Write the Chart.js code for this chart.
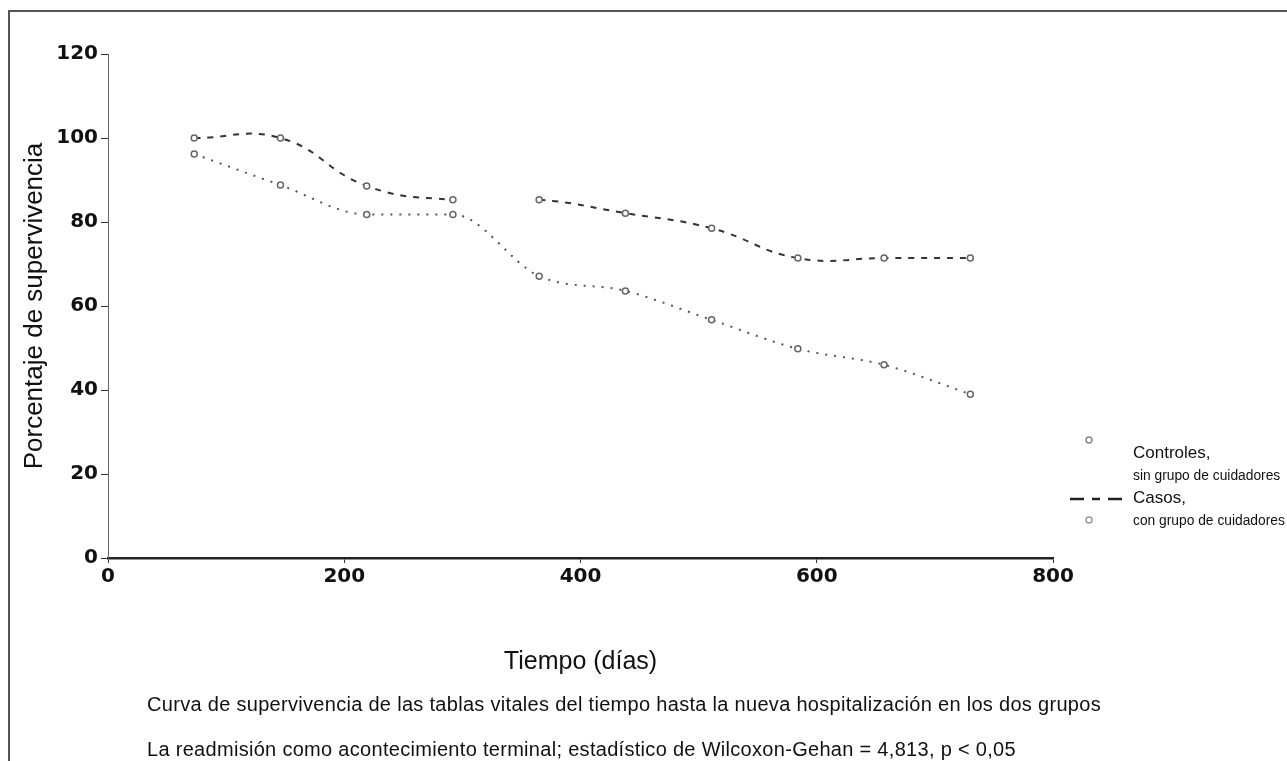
<!DOCTYPE html>
<html lang="es">
<head>
<meta charset="utf-8">
<title>Curva de supervivencia</title>
<script src="https://cdn.jsdelivr.net/npm/chart.js@4.4.0/dist/chart.umd.min.js"></script>
<style>
  html, body { margin: 0; padding: 0; background: #fff; }
  body { width: 1287px; height: 761px; position: relative; overflow: hidden;
         font-family: "Liberation Sans", Arial, sans-serif; color: #111; }
  #wrap { position: absolute; left: 0; top: 0; width: 1287px; height: 761px; }
  .frame { position: absolute; left: 8px; top: 10px; width: 1279px; height: 751px;
           border-top: 2px solid #555; border-left: 2px solid #555; box-sizing: border-box; }
  .txt { position: absolute; white-space: nowrap; }
  .cap { left: 147px; font-size: 20px; line-height: 22px; letter-spacing: 0.3px; }
  .leg-big { left: 1133px; font-size: 17px; line-height: 20px; }
  .leg-small { left: 1133px; font-size: 13.8px; line-height: 16px; }
  svg.overlay { position: absolute; left: 0; top: 0; pointer-events: none; }
</style>
</head>
<body>
<div class="frame"></div>
<div id="wrap"><canvas id="chart" width="1287" height="761"></canvas></div>

<svg class="overlay" width="1287" height="761">
  <circle cx="1089" cy="440" r="3" fill="none" stroke="#888" stroke-width="1.5"/>
  <line x1="1070" y1="499" x2="1128" y2="499" stroke="#222" stroke-width="2.5" stroke-dasharray="14 8 8 8 14"/>
  <circle cx="1089" cy="520" r="3" fill="none" stroke="#999" stroke-width="1.5"/>
</svg>

<div class="txt leg-big" style="top:443px">Controles,</div>
<div class="txt leg-small" style="top:468px">sin grupo de cuidadores</div>
<div class="txt leg-big" style="top:488px">Casos,</div>
<div class="txt leg-small" style="top:513px">con grupo de cuidadores</div>

<div class="txt cap" style="top:693px">Curva de supervivencia de las tablas vitales del tiempo hasta la nueva hospitalización en los dos grupos</div>
<div class="txt cap" style="top:738px">La readmisión como acontecimiento terminal; estadístico de Wilcoxon-Gehan = 4,813, p &lt; 0,05</div>

<script>
'use strict';

// ─── DATOS ───────────────────────────────────────────────────────────────────

const dias      = [73, 146, 219, 292, 365, 438, 511, 584, 657, 730];
const casos     = [100, 100, 88.6, 85.3, 85.3, 82.1, 78.5, 71.4, 71.4, 71.4];
const controles = [96.2, 88.8, 81.8, 81.8, 67.1, 63.6, 56.7, 49.8, 46, 39];

const ticksX = [0, 200, 400, 600, 800];
const ticksY = [0, 20, 40, 60, 80, 100, 120];

const tituloX = 'Tiempo (días)';
const tituloY = 'Porcentaje de supervivencia';

// ─── HELPERS ─────────────────────────────────────────────────────────────────

function puntos(ys) {
  return dias.map((d, i) => ({ x: d, y: ys[i] }));
}

const tickFont = { family: 'DejaVu Sans', size: 20, weight: 'bold' };

// ─── GRÁFICO ─────────────────────────────────────────────────────────────────

new Chart(document.getElementById('chart'), {
  type: 'line',
  data: {
    datasets: [
      {
        label: 'Casos',
        data: puntos(casos),
        borderColor: '#333',
        borderWidth: 2,
        borderDash: [6, 7],
        tension: 0.45,
        pointRadius: 3,
        pointBorderWidth: 1.5,
        pointBorderColor: '#666',
        pointBackgroundColor: '#fff',
        segment: {
          // tramo sin trazo entre el 4.º y el 5.º punto
          borderColor: ctx => ctx.p0DataIndex === 3 ? 'rgba(0,0,0,0)' : undefined,
        },
      },
      {
        label: 'Controles',
        data: puntos(controles),
        borderColor: '#555',
        borderWidth: 2,
        borderDash: [2, 7],
        cubicInterpolationMode: 'monotone',
        pointRadius: 3,
        pointBorderWidth: 1.5,
        pointBorderColor: '#666',
        pointBackgroundColor: '#fff',
      },
    ],
  },
  options: {
    responsive: false,
    animation: false,
    layout: { padding: { left: 0, top: 54, right: 234, bottom: 73 } },
    plugins: { legend: { display: false }, tooltip: { enabled: false } },
    scales: {
      x: {
        type: 'linear',
        min: 0,
        max: 800,
        afterFit: s => { s.height = 130; },
        afterBuildTicks: s => { s.ticks = ticksX.map(v => ({ value: v })); },
        grid: { drawOnChartArea: false, drawTicks: true, tickLength: 5, color: '#333' },
        border: { display: true, color: '#222', width: 2.5 },
        ticks: { color: '#111', font: tickFont, padding: 2, maxRotation: 0 },
        title: {
          display: true, text: tituloX, color: '#111',
          font: { family: 'Liberation Sans', size: 25 },
          padding: { top: 0, bottom: 11 },
        },
      },
      y: {
        min: 0,
        max: 120,
        afterFit: s => { s.width = 108; },
        afterBuildTicks: s => { s.ticks = ticksY.map(v => ({ value: v })); },
        grid: { drawOnChartArea: false, drawTicks: true, tickLength: 7, color: '#333' },
        border: { display: true, color: '#666', width: 1 },
        ticks: { color: '#111', font: tickFont, padding: 3 },
        title: {
          display: true, text: tituloY, color: '#111',
          font: { family: 'Liberation Sans', size: 26 },
          padding: { top: 19, bottom: 0 },
        },
      },
    },
  },
});
</script>
</body>
</html>
